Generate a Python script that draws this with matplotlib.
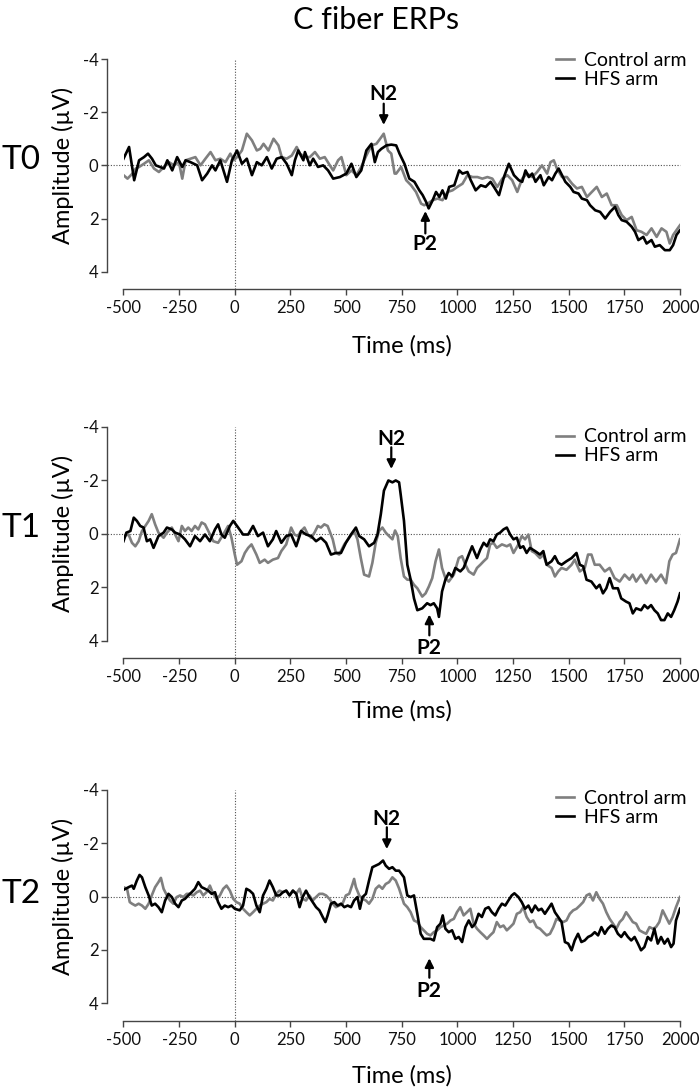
import numpy as np
import matplotlib.pyplot as plt

plt.rcParams['font.family'] = ['Lato', 'DejaVu Sans']
plt.rcParams['axes.unicode_minus'] = False

# ---- data (ms, µV; negative is plotted upward) ----
t0_hfs_time = [-500, -475, -452, -430, -408, -390, -372, -355, -318, -303, -281, -259, -236, -221, -199, -169,
               -147, -124, -102, -87, -65, -35, -13, 10, 32, 54, 77, 99, 121, 144, 166, 188, 211, 233, 256, 270,
               285, 308, 315, 337, 352, 374, 397, 419, 442, 472, 501, 524, 546, 568, 591, 614, 629, 643, 658, 681,
               703, 725, 740, 762, 784, 807, 829, 844, 859, 871, 889, 904, 919, 933, 948, 963, 986, 1008, 1023,
               1045, 1060, 1082, 1105, 1127, 1149, 1164, 1187, 1209, 1231, 1254, 1276, 1291, 1306, 1321, 1336,
               1351, 1373, 1388, 1410, 1425, 1440, 1455, 1470, 1485, 1507, 1522, 1544, 1559, 1582, 1596, 1619,
               1641, 1664, 1686, 1708, 1723, 1738, 1760, 1783, 1798, 1813, 1835, 1850, 1872, 1887, 1909, 1932,
               1954, 1969, 1984, 2000]
t0_hfs_amp = [-0.25, -0.69, 0.56, -0.19, -0.31, -0.44, -0.25, 0.0, 0.12, -0.19, 0.19, -0.31, 0.06, -0.19, -0.12, 0.0,
              0.56, 0.31, 0.0, 0.19, -0.19, 0.62, -0.19, -0.56, -0.06, -0.25, 0.37, -0.12, 0.0, -0.31, 0.12, -0.25,
              -0.31, -0.06, 0.37, -0.19, -0.56, -0.19, -0.5, 0.0, -0.25, 0.06, 0.0, 0.19, 0.5, 0.44, 0.31, -0.06,
              0.44, 0.19, -0.56, -0.81, -0.12, -0.5, -0.62, -0.75, -0.78, -0.75, -0.44, -0.06, 0.5, 0.62, 0.94,
              1.12, 1.37, 1.62, 1.31, 1.0, 1.19, 0.94, 1.25, 0.81, 0.75, 0.19, 0.31, 0.25, 0.56, 0.94, 0.75, 0.81,
              0.62, 0.81, 1.12, 0.44, -0.06, 0.37, 0.56, 0.62, 0.19, 0.44, 0.31, 0.62, 0.37, 0.75, 0.44, 0.56,
              0.31, 0.12, 0.37, 0.62, 0.81, 1.0, 1.06, 1.25, 1.31, 1.5, 1.69, 1.75, 2.0, 1.75, 1.56, 1.87, 2.06,
              2.12, 2.31, 2.5, 2.81, 2.69, 2.94, 2.81, 3.06, 3.0, 3.19, 3.19, 3.0, 2.62, 2.44]

t0_ctl_time = [-500, -482, -460, -445, -430, -408, -386, -363, -341, -318, -296, -273, -251, -236, -221, -199, -177,
               -154, -132, -109, -87, -65, -42, -20, -5, 10, 32, 54, 77, 99, 114, 129, 151, 174, 196, 211, 233,
               256, 278, 293, 315, 337, 360, 382, 404, 427, 442, 464, 479, 501, 524, 546, 568, 591, 614, 636, 658,
               669, 688, 703, 718, 725, 747, 770, 792, 814, 837, 851, 866, 889, 911, 933, 956, 978, 1000, 1023,
               1045, 1068, 1090, 1112, 1135, 1157, 1179, 1202, 1224, 1246, 1269, 1291, 1313, 1336, 1358, 1380,
               1403, 1418, 1433, 1447, 1470, 1492, 1515, 1537, 1559, 1582, 1604, 1626, 1649, 1671, 1693, 1716,
               1738, 1760, 1783, 1805, 1827, 1850, 1872, 1895, 1917, 1939, 1954, 1969, 1984, 2000]
t0_ctl_amp = [0.37, 0.5, 0.31, 0.12, 0.06, -0.06, -0.19, 0.12, 0.25, 0.06, -0.12, 0.0, -0.12, 0.5, -0.19, -0.25,
              -0.31, 0.0, -0.25, -0.5, -0.19, -0.25, -0.12, -0.44, -0.19, -0.31, -0.56, -1.19, -0.94, -0.56, -0.62,
              -0.81, -0.56, -1.0, -0.75, -0.31, -0.25, -0.37, -0.69, -0.44, -0.31, -0.31, -0.5, -0.25, -0.31, 0.0,
              0.19, -0.19, -0.31, 0.37, 0.19, 0.37, 0.06, -0.37, -0.75, -0.81, -1.06, -1.19, -0.56, -0.44, 0.31,
              0.31, 0.06, 0.56, 0.75, 1.0, 1.44, 1.5, 1.44, 1.31, 1.25, 1.31, 1.0, 0.94, 0.81, 0.69, 0.37, 0.44,
              0.44, 0.5, 0.44, 0.5, 0.81, 0.5, 0.37, 0.56, 1.0, 0.5, 0.31, 0.44, 0.25, 0.0, 0.31, -0.12, -0.19,
              0.12, 0.44, 0.44, 0.69, 0.87, 0.81, 1.19, 1.0, 0.81, 1.19, 1.06, 1.5, 1.5, 1.87, 2.06, 1.94, 2.44,
              2.5, 2.62, 2.37, 2.69, 2.37, 2.5, 2.94, 2.62, 2.44, 2.25]

t1_hfs_time = [-500, -487, -469, -454, -440, -425, -410, -395, -380, -365, -343, -320, -305, -283, -268, -246, -224,
               -201, -179, -156, -134, -112, -89, -75, -60, -45, -22, -7, 15, 37, 60, 82, 104, 127, 149, 171, 186,
               209, 231, 253, 276, 298, 320, 343, 365, 387, 410, 432, 454, 477, 499, 522, 544, 559, 581, 603, 626,
               641, 656, 670, 690, 708, 723, 738, 745, 760, 775, 790, 805, 820, 842, 864, 879, 894, 909, 917, 931,
               946, 961, 976, 991, 1013, 1028, 1051, 1066, 1088, 1103, 1118, 1133, 1147, 1162, 1177, 1192, 1207,
               1222, 1237, 1252, 1267, 1282, 1296, 1311, 1326, 1349, 1371, 1386, 1401, 1423, 1438, 1453, 1468,
               1490, 1513, 1535, 1550, 1565, 1580, 1602, 1624, 1639, 1654, 1669, 1684, 1699, 1721, 1736, 1758,
               1773, 1788, 1803, 1825, 1840, 1855, 1870, 1885, 1900, 1915, 1930, 1945, 1960, 1974, 1989, 2000]
t1_hfs_amp = [0.28, -0.04, -0.1, -0.6, -0.48, -0.29, -0.23, 0.28, 0.21, 0.53, 0.09, -0.04, -0.23, -0.16, -0.04, 0.03,
              0.21, 0.47, 0.09, 0.28, 0.03, 0.28, -0.16, -0.35, 0.03, 0.15, -0.29, -0.48, -0.23, 0.03, 0.03, -0.29,
              0.09, -0.04, 0.47, 0.21, -0.1, 0.34, 0.09, 0.03, 0.47, -0.1, 0.03, 0.09, 0.28, 0.15, 0.34, 0.78, 0.72,
              0.72, 0.34, 0.03, -0.23, 0.09, 0.21, 0.47, 0.34, 0.03, -0.73, -1.61, -1.99, -1.92, -1.99, -1.92,
              -1.48, -0.48, 1.16, 1.72, 2.42, 2.86, 2.79, 2.6, 2.67, 2.6, 2.79, 3.11, 2.16, 1.72, 1.47, 1.6, 1.28,
              1.41, 1.28, 0.78, 0.47, 0.91, 0.59, 0.34, 0.47, 0.21, 0.28, 0.03, -0.04, -0.16, -0.23, 0.03, 0.21,
              0.15, 0.53, 0.47, 0.72, 0.53, 0.65, 0.78, 0.65, 1.16, 1.03, 0.84, 1.09, 1.16, 1.03, 0.91, 0.72, 1.16,
              1.22, 1.72, 1.79, 2.04, 1.91, 2.23, 2.04, 1.66, 2.04, 2.04, 2.42, 2.54, 2.6, 2.98, 2.79, 2.86, 2.67,
              2.79, 2.67, 2.86, 2.98, 3.23, 3.23, 2.98, 3.11, 2.86, 2.54, 2.23]

t1_ctl_time = [-500, -477, -462, -447, -432, -417, -402, -387, -373, -358, -343, -320, -305, -283, -268, -253, -238,
               -224, -209, -194, -179, -164, -149, -134, -119, -97, -75, -52, -30, -15, 0, 10, 30, 45, 60, 75, 97,
               112, 134, 149, 171, 194, 209, 231, 253, 268, 283, 298, 313, 328, 343, 358, 373, 387, 402, 417, 440,
               454, 469, 492, 514, 536, 551, 566, 581, 603, 618, 633, 648, 663, 678, 693, 708, 720, 732, 745, 760,
               775, 790, 805, 820, 842, 857, 872, 887, 902, 917, 931, 946, 961, 984, 1006, 1021, 1036, 1051, 1073,
               1088, 1103, 1118, 1133, 1147, 1162, 1177, 1200, 1222, 1237, 1252, 1274, 1289, 1304, 1319, 1334, 1349,
               1371, 1386, 1401, 1423, 1438, 1453, 1468, 1490, 1513, 1527, 1550, 1572, 1587, 1602, 1617, 1639, 1662,
               1684, 1706, 1729, 1751, 1773, 1788, 1803, 1825, 1848, 1870, 1892, 1915, 1937, 1952, 1967, 1982, 2000]
t1_ctl_amp = [0.09, 0.03, 0.34, 0.47, 0.28, -0.1, -0.29, -0.48, -0.73, -0.35, -0.04, 0.15, -0.04, -0.23, 0.03, 0.28,
              -0.29, -0.1, -0.23, -0.1, -0.29, -0.16, -0.42, -0.35, -0.1, 0.28, 0.34, 0.03, -0.29, 0.15, 0.78, 1.16,
              1.03, 0.72, 0.53, 0.4, 0.78, 1.09, 0.97, 1.09, 0.97, 0.91, 0.65, 0.4, -0.23, 0.03, 0.09, -0.1, -0.23,
              0.03, 0.15, -0.04, -0.29, -0.23, -0.35, -0.29, 0.21, 0.72, 0.78, 0.4, 0.15, -0.1, 0.21, 0.91, 1.53,
              1.6, 1.09, 0.34, -0.1, -0.23, -0.04, 0.09, 0.21, -0.12, 0.09, 0.91, 1.6, 1.72, 1.72, 1.91, 2.04, 2.35,
              2.23, 1.97, 1.66, 1.03, 0.59, 1.28, 1.66, 1.79, 1.53, 0.91, 0.84, 1.16, 1.41, 1.53, 1.28, 1.16, 1.03,
              0.91, 0.4, 0.34, 0.53, 0.4, 0.47, 0.4, 0.72, 0.4, 0.09, 0.21, 0.03, 0.65, 0.72, 0.91, 0.78, 1.16, 1.28,
              1.6, 1.41, 1.28, 1.35, 1.16, 0.97, 1.41, 1.28, 0.78, 0.78, 1.16, 1.16, 1.41, 1.28, 1.66, 1.79, 1.53,
              1.72, 1.53, 1.79, 1.53, 1.85, 1.53, 1.79, 1.53, 1.85, 1.03, 0.78, 0.72, 0.21]

t2_hfs_time = [-500, -477, -462, -454, -440, -428, -417, -402, -387, -373, -358, -343, -328, -313, -298, -283, -268,
               -253, -238, -224, -209, -194, -179, -164, -149, -134, -119, -104, -89, -75, -60, -45, -30, -15, 0, 22,
               37, 52, 67, 82, 97, 112, 127, 142, 156, 171, 186, 201, 216, 231, 246, 261, 276, 291, 305, 320, 335,
               350, 365, 380, 395, 407, 417, 432, 447, 462, 477, 492, 507, 522, 536, 551, 562, 574, 589, 603, 618,
               633, 648, 666, 678, 693, 708, 723, 738, 760, 775, 790, 805, 820, 835, 849, 864, 879, 894, 909, 924,
               934, 946, 961, 976, 991, 1006, 1021, 1036, 1051, 1066, 1080, 1095, 1110, 1125, 1140, 1155, 1170,
               1185, 1200, 1215, 1229, 1244, 1256, 1274, 1289, 1304, 1319, 1334, 1349, 1364, 1378, 1393, 1408, 1423,
               1438, 1453, 1468, 1483, 1498, 1513, 1527, 1542, 1557, 1572, 1587, 1602, 1617, 1632, 1647, 1662, 1676,
               1691, 1706, 1721, 1736, 1751, 1766, 1781, 1796, 1811, 1825, 1840, 1855, 1870, 1885, 1900, 1915, 1930,
               1945, 1960, 1971, 1982, 2000]
t2_hfs_amp = [-0.25, -0.35, -0.41, -0.29, -0.6, -0.81, -0.72, -0.35, -0.04, 0.34, 0.27, 0.4, 0.59, 0.15, -0.1, 0.02,
              0.27, 0.4, 0.15, 0.09, -0.04, -0.16, -0.29, -0.54, -0.35, -0.29, -0.22, -0.1, -0.16, 0.21, 0.46, 0.34,
              0.4, 0.34, 0.46, 0.52, 0.34, -0.29, -0.22, -0.1, 0.34, 0.59, -0.04, -0.29, -0.6, -0.35, -0.04, -0.04,
              -0.16, -0.22, -0.04, -0.22, -0.1, 0.4, 0.02, -0.22, 0.02, 0.21, 0.4, 0.52, 0.77, 0.96, 0.71, 0.27,
              0.21, 0.34, 0.27, 0.4, 0.34, 0.4, 0.15, 0.02, 0.46, 0.02, -0.1, -0.6, -1.1, -1.16, -1.22, -1.35,
              -1.16, -1.04, -1.1, -0.97, -0.97, -0.72, -0.04, 0.02, -0.04, 0.65, 1.4, 1.59, 1.59, 1.59, 1.65, 1.15,
              1.02, 0.71, 1.21, 1.34, 1.27, 1.59, 1.52, 1.71, 1.15, 0.9, 1.15, 1.02, 0.65, 0.77, 0.46, 0.4, 0.59,
              0.71, 0.46, 0.27, 0.34, 0.15, -0.04, -0.12, 0.02, 0.21, 0.46, 0.34, 0.59, 0.34, 0.52, 0.46, 0.65,
              0.46, 0.27, 0.59, 0.77, 0.96, 1.71, 1.77, 2.02, 1.65, 1.4, 1.71, 1.65, 1.52, 1.46, 1.34, 1.46, 1.15,
              1.4, 1.21, 1.09, 1.15, 1.4, 1.52, 1.34, 1.52, 1.65, 1.52, 1.77, 2.02, 1.9, 1.52, 1.65, 1.21, 1.77,
              1.52, 1.77, 1.59, 1.9, 1.77, 0.9, 0.46]

t2_ctl_time = [-500, -484, -472, -462, -447, -432, -417, -402, -387, -373, -358, -343, -332, -320, -305, -291, -276,
               -261, -246, -231, -216, -201, -186, -171, -156, -142, -127, -112, -97, -82, -67, -52, -37, -22, -7, 7,
               22, 37, 52, 67, 82, 97, 112, 127, 142, 156, 171, 186, 201, 216, 231, 246, 261, 276, 291, 305, 320,
               335, 350, 365, 380, 395, 410, 425, 440, 454, 469, 484, 499, 514, 529, 536, 544, 559, 574, 589, 603,
               618, 633, 648, 663, 678, 693, 708, 723, 738, 748, 760, 775, 790, 805, 820, 835, 849, 864, 879, 894,
               909, 924, 939, 954, 969, 984, 998, 1013, 1028, 1043, 1058, 1073, 1088, 1103, 1118, 1133, 1147, 1162,
               1177, 1192, 1207, 1222, 1237, 1252, 1267, 1282, 1296, 1311, 1326, 1341, 1356, 1371, 1386, 1401, 1416,
               1431, 1445, 1460, 1475, 1490, 1505, 1520, 1535, 1550, 1565, 1580, 1594, 1609, 1624, 1639, 1654, 1669,
               1684, 1699, 1714, 1729, 1743, 1758, 1773, 1788, 1803, 1818, 1833, 1848, 1863, 1878, 1892, 1907, 1922,
               1937, 1952, 1967, 1982, 2000]
t2_ctl_amp = [-0.35, -0.29, 0.21, 0.27, 0.34, 0.27, 0.34, 0.46, 0.27, -0.04, -0.35, -0.54, -0.7, -0.29, -0.04, 0.15,
              0.27, 0.02, -0.04, 0.02, -0.1, -0.1, -0.04, -0.16, -0.22, -0.04, -0.16, -0.41, -0.1, 0.09, -0.04,
              -0.29, -0.41, -0.22, 0.09, 0.21, 0.27, 0.46, 0.59, 0.71, 0.59, 0.46, 0.34, 0.27, 0.21, 0.09, 0.15,
              -0.1, -0.22, -0.16, -0.22, -0.04, -0.22, -0.1, -0.29, 0.09, 0.15, -0.04, 0.15, 0.02, -0.1, -0.1,
              -0.04, 0.09, 0.27, 0.4, 0.34, 0.27, -0.04, -0.1, -0.47, -0.66, -0.35, -0.04, 0.09, 0.15, 0.27, 0.09,
              -0.29, -0.41, -0.29, -0.47, -0.54, -0.72, -0.6, -0.3, -0.04, 0.27, 0.4, 0.59, 0.9, 0.96, 1.15, 1.27,
              1.4, 1.46, 1.34, 1.27, 1.15, 1.09, 1.02, 0.9, 0.84, 0.59, 0.4, 0.71, 0.59, 0.46, 1.02, 1.21, 1.34,
              1.46, 1.59, 1.46, 1.34, 0.96, 1.15, 1.09, 1.27, 1.15, 1.02, 0.65, 0.59, 0.4, 0.77, 0.96, 0.9, 1.15,
              1.21, 1.34, 1.46, 1.4, 1.15, 0.84, 0.9, 0.96, 0.9, 0.65, 0.52, 0.46, 0.34, 0.21, -0.04, -0.1, 0.15,
              -0.16, 0.09, 0.27, 0.59, 0.84, 1.02, 1.21, 0.96, 0.84, 0.59, 0.77, 0.96, 1.02, 1.27, 1.34, 1.4, 1.15,
              1.21, 1.15, 0.96, 0.52, 0.77, 1.02, 0.77, 0.4, 0.02]

panel_labels = ["T0", "T1", "T2"]
series = [
    (t0_ctl_time, t0_ctl_amp, t0_hfs_time, t0_hfs_amp),
    (t1_ctl_time, t1_ctl_amp, t1_hfs_time, t1_hfs_amp),
    (t2_ctl_time, t2_ctl_amp, t2_hfs_time, t2_hfs_amp),
]
# peak markers: (time, text amp, arrow tail, arrow tip)
n2_marks = [(669, -2.67, -2.32, -1.52), (703, -3.54, -3.23, -2.42), (683, -2.92, -2.6, -1.78)]
p2_marks = [(856, 2.94, 2.56, 1.72), (874, 4.28, 3.8, 3.02), (874, 3.55, 3.05, 2.32)]

# ---- layout (pixel measurements of the original) ----
W, H = 700, 1088
ax_left, ax_right = 123.5, 680
panel_y = [(59, 271.7), (426.7, 640.7), (790, 1003)]
legend_top = [1.034, 0.992, 1.0]
label_y = [160, 528, 894]
xlabel_off = [-0.35, -0.33, -0.34]

spine_col = "#454545"
ctl_col = "#7f7f7f"

fig = plt.figure(figsize=(W / 100, H / 100), dpi=100)
fig.text(376 / W, 1 - 20 / H, "C fiber ERPs", fontsize=22, ha="center", va="center")

for i, (ct, ca, ht, ha) in enumerate(series):
    top, bot = panel_y[i]
    ax = fig.add_axes([ax_left / W, 1 - bot / H, (ax_right - ax_left) / W, (bot - top) / H])
    ax.patch.set_alpha(0)

    ax.axhline(0, xmin=-0.039, xmax=1, color="#505050", lw=0.8, ls=(0, (1, 1.5)), clip_on=False, zorder=1)
    ax.axvline(0, ymin=-0.083, ymax=1, color="#505050", lw=0.8, ls=(0, (1, 1.5)), clip_on=False, zorder=1)

    ax.plot(ct, ca, color=ctl_col, lw=1.9, label="Control arm", zorder=2)
    ax.plot(ht, ha, color="black", lw=1.9, label="HFS arm", zorder=3)

    ax.set_xlim(-500, 2000)
    ax.set_ylim(4, -4)
    ax.set_xticks(np.arange(-500, 2001, 250))
    ax.set_yticks([-4, -2, 0, 2, 4])

    for s in ["top", "right"]:
        ax.spines[s].set_visible(False)
    ax.spines["left"].set_position(("outward", 12))
    ax.spines["bottom"].set_position(("outward", 12.7))
    for s in ["left", "bottom"]:
        ax.spines[s].set_color(spine_col)
        ax.spines[s].set_linewidth(1.0)
    ax.tick_params(axis="both", direction="out", length=4, width=1, color=spine_col,
                   labelsize=12, labelcolor="#111111")
    ax.tick_params(axis="x", pad=4)
    ax.tick_params(axis="y", pad=2)

    ax.set_ylabel("Amplitude (µV)", fontsize=17)
    ax.yaxis.set_label_coords(-0.108, 0.5)
    ax.yaxis.label.set_va("center")
    ax.set_xlabel("Time (ms)", fontsize=17)
    ax.xaxis.set_label_coords(0.5, xlabel_off[i])
    ax.xaxis.label.set_va("center")

    ax.legend(loc="upper right", bbox_to_anchor=(1.012, legend_top[i]), frameon=False, fontsize=14,
              handlelength=0.95, handletextpad=0.5, labelspacing=0.1, borderpad=0, borderaxespad=0)

    fig.text(2 / W, 1 - label_y[i] / H, panel_labels[i], fontsize=24, ha="left", va="center")

    for (t, tv, tail, tip), name in [(n2_marks[i], "N2"), (p2_marks[i], "P2")]:
        ax.text(t, tv, name, ha="center", va="center", fontsize=15, fontweight="bold", clip_on=False)
        ax.annotate("", xy=(t, tip), xytext=(t, tail), annotation_clip=False,
                    arrowprops=dict(arrowstyle="-|>", color="black", lw=1.6, mutation_scale=13,
                                    shrinkA=0, shrinkB=0))

fig.savefig("out.png", dpi=100)
